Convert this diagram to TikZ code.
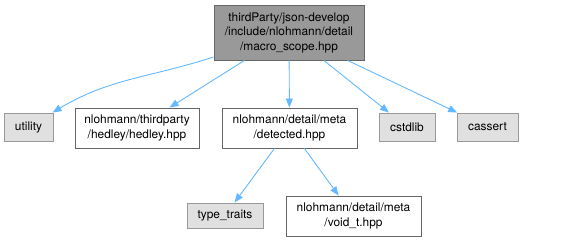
\documentclass[tikz,border=0pt]{standalone}
\usepackage{fontspec}
\setmainfont{TeX Gyre Heros}
\definecolor{edgeblue}{HTML}{63B8FF}
\definecolor{maingray}{HTML}{999999}
\definecolor{darkline}{HTML}{666666}
\definecolor{sysgray}{HTML}{E0E0E0}
\definecolor{sysline}{HTML}{999999}
\usetikzlibrary{arrows.meta}

\tikzset{
  file/.style={draw=darkline, fill=white, line width=0.9pt, inner sep=0pt,
    align=center, font=\fontsize{11.9}{14.5}\selectfont},
  sysfile/.style={file, draw=sysline, fill=sysgray},
  current/.style={file, fill=maingray},
  dep/.style={edgeblue, line width=0.9pt, -{Triangle[length=9pt,width=7pt]}}
}

\begin{document}
\begin{tikzpicture}[x=1pt, y=-1pt]
   \useasboundingbox (0,0) rectangle (567,241);
   % File being documented
   \node[current, minimum width=150pt, minimum height=55pt] (scope) at (289,32.5)
      {thirdParty/json-develop\\/include/nlohmann/detail\\/macro\_scope.hpp};
   % Direct includes
   \node[sysfile, minimum width=49pt, minimum height=28pt] (utility) at (28.5,127) {utility};
   \node[file, minimum width=124pt, minimum height=40pt] (hedley) at (137,128)
      {nlohmann/thirdparty\\/hedley/hedley.hpp};
   \node[file, minimum width=135pt, minimum height=40pt] (detected) at (289.5,128)
      {nlohmann/detail/meta\\/detected.hpp};
   \node[sysfile, minimum width=56pt, minimum height=28pt] (cstdlib) at (407,127) {cstdlib};
   \node[sysfile, minimum width=61pt, minimum height=28pt] (cassert) at (487.5,127) {cassert};
   % Includes of detected.hpp
   \node[sysfile, minimum width=76pt, minimum height=25pt] (traits) at (225,215.5) {type\_traits};
   \node[file, minimum width=135pt, minimum height=40pt] (voidt) at (353.5,216)
      {nlohmann/detail/meta\\/void\_t.hpp};
   % Edges
   \draw[dep] (scope) to[out=198, in=31] (utility);
   \draw[dep] (scope) -- (hedley);
   \draw[dep] (scope) -- (detected);
   \draw[dep] (scope) -- (cstdlib);
   \draw[dep] (scope) -- (cassert);
   \draw[dep] (detected) -- (traits);
   \draw[dep] (detected) -- (voidt);
\end{tikzpicture}
\end{document}
